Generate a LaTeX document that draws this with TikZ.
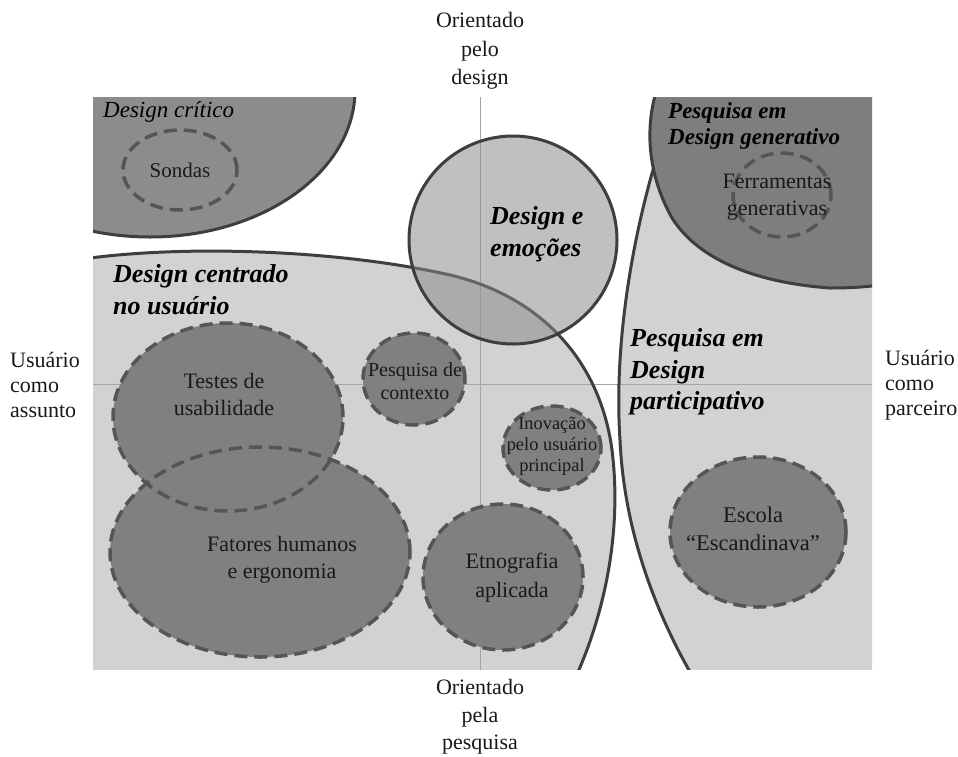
\documentclass[tikz,border=0pt]{standalone}
\usepackage{fontspec}
\setmainfont{Liberation Serif}
\definecolor{lightreg}{RGB}{210,210,210}
\definecolor{critreg}{RGB}{140,140,140}
\definecolor{genreg}{RGB}{126,126,126}
\definecolor{bubfill}{RGB}{128,128,128}
\definecolor{edgecol}{RGB}{62,62,62}
\definecolor{dashcol}{RGB}{85,85,85}
\definecolor{axiscol}{RGB}{165,165,165}
\definecolor{emofill}{RGB}{137,137,137}
\definecolor{txt}{RGB}{25,25,25}
\tikzset{
  regionedge/.style={draw=edgecol, line width=3pt},
  bubble/.style={fill=bubfill},
  bubbleedge/.style={draw=dashcol, line width=3.5pt, dash pattern=on 13pt off 7pt},
  axisline/.style={draw=axiscol, line width=1pt},
  lbl/.style={font=\fontsize{22}{27}\selectfont, align=center, inner sep=0pt, text=txt},
  smalllbl/.style={font=\fontsize{18.4}{21}\selectfont, align=center, inner sep=0pt, text=txt},
  axlbl/.style={font=\fontsize{22}{25}\selectfont, align=left, inner sep=0pt, text=txt},
  ttl/.style={font=\fontsize{26}{32}\selectfont\bfseries\itshape, align=left, inner sep=0pt, anchor=west, text=black},
  ttlsmall/.style={font=\fontsize{23}{26}\selectfont\bfseries\itshape, align=left, inner sep=0pt, anchor=west, text=black},
}
\begin{document}
\begin{tikzpicture}[x=1pt,y=-1pt]
\useasboundingbox (0,0) rectangle (958,756);
\fill[white] (0,0) rectangle (958,756);
\def\ctrcurve{(90,258) .. controls (200,244) and (350,252) .. (450,275) .. controls (540,296) and (600,360) .. (612,450) .. controls (622,530) and (605,610) .. (578,672)}
\def\partcurve{(662,140) .. controls (630,240) and (614,350) .. (620,440) .. controls (624,530) and (655,610) .. (690,672)}
\def\gencurve{(656,92) .. controls (645,130) and (648,175) .. (672,218) .. controls (700,262) and (760,283) .. (830,288) .. controls (850,288) and (865,287) .. (880,285)}
\begin{scope}
\clip (93,97) rectangle (872,669);
% light regions
\fill[lightreg] \ctrcurve -- (90,672) -- cycle;
\fill[lightreg] \partcurve -- (880,672) -- (880,200) -- (700,200) -- cycle;
% axes
\draw[axisline] (480,90) -- (480,675);
\draw[axisline] (90,384) -- (880,384);
% region outlines
\draw[regionedge] \ctrcurve;
\draw[regionedge] \partcurve;
% design critico
\fill[critreg] (150,90) ellipse [x radius=205pt, y radius=147pt];
\draw[regionedge] (150,90) ellipse [x radius=205pt, y radius=147pt];
% design generativo
\fill[genreg] \gencurve -- (880,90) -- cycle;
\draw[regionedge] \gencurve;
\end{scope}
% design e emocoes
\fill[emofill, fill opacity=0.53] (513,240) circle [radius=104pt];
\draw[regionedge] (513,240) circle [radius=104pt];
% bubbles fills
\fill[bubble] (260,552) ellipse [x radius=150pt, y radius=105pt];
\fill[bubble] (228,417) ellipse [x radius=115pt, y radius=94pt];
\fill[bubble] (414,379) ellipse [x radius=51pt, y radius=46pt];
\fill[bubble] (503,577) ellipse [x radius=80pt, y radius=73pt];
\fill[bubble] (552,448) ellipse [x radius=49pt, y radius=42pt];
\fill[bubble] (758,532) ellipse [x radius=88pt, y radius=75pt];
% bubble outlines
\draw[bubbleedge] (180,170) ellipse [x radius=57pt, y radius=40pt];
\draw[bubbleedge] (782,195) ellipse [x radius=49pt, y radius=42pt];
\draw[bubbleedge] (260,552) ellipse [x radius=150pt, y radius=105pt];
\draw[bubbleedge] (228,417) ellipse [x radius=115pt, y radius=94pt];
\draw[bubbleedge] (414,379) ellipse [x radius=51pt, y radius=46pt];
\draw[bubbleedge] (503,577) ellipse [x radius=80pt, y radius=73pt];
\draw[bubbleedge] (552,448) ellipse [x radius=49pt, y radius=42pt];
\draw[bubbleedge] (758,532) ellipse [x radius=88pt, y radius=75pt];
% axis labels
\node[axlbl, align=center, font=\fontsize{22}{28.5}\selectfont] (top) at (480,51) {Orientado\\pelo\\design};
\node[axlbl, align=center, font=\fontsize{22}{27.5}\selectfont] (bottom) at (480,717) {Orientado\\pela\\pesquisa};
\node[axlbl, anchor=west] (left) at (10,385) {Usuário\\como\\assunto};
\node[axlbl, anchor=west] (right) at (885,385) {Usuário\\como\\parceiro};
% region titles
\node[ttlsmall, font=\fontsize{23}{26}\selectfont\itshape] (critico) at (103,112) {Design crítico};
\node[ttl] (centrado) at (113,290) {Design centrado\\no usuário};
\node[ttl] (emocoes) at (490,234) {Design e\\emoções};
\node[ttlsmall] (generativo) at (668,126) {Pesquisa em\\Design generativo};
\node[ttl, font=\fontsize{26}{31.5}\selectfont\bfseries\itshape] (participativo) at (630,372) {Pesquisa em\\Design\\participativo};
% bubble labels
\node[lbl, font=\fontsize{21}{27}\selectfont] (sondas) at (180,170) {Sondas};
\node[lbl] (ferramentas) at (777,197) {Ferramentas\\generativas};
\node[lbl] (testes) at (224,394) {Testes de\\usabilidade};
\node[lbl] (fatores) at (282,560) {Fatores humanos\\e ergonomia};
\node[lbl, font=\fontsize{20}{23}\selectfont] (contexto) at (415,381) {Pesquisa de\\contexto};
\node[smalllbl] (inovacao) at (552,446) {Inovação\\pelo usuário\\principal};
\node[lbl, font=\fontsize{22}{29}\selectfont] (etnografia) at (512,578) {Etnografia\\aplicada};
\node[lbl, font=\fontsize{22.5}{28}\selectfont] (escola) at (753,529) {Escola\\“Escandinava”};
\end{tikzpicture}
\end{document}
